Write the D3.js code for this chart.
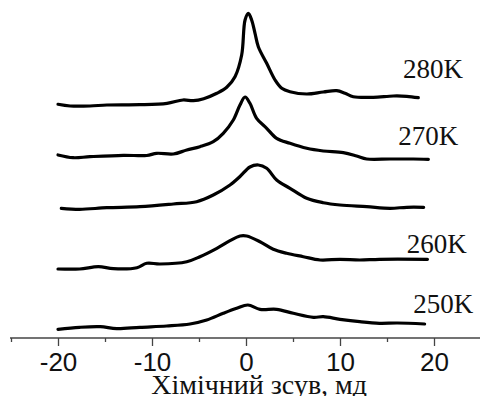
<!DOCTYPE html>
<html>
<head>
<meta charset="utf-8">
<script src="https://cdn.jsdelivr.net/npm/d3@7"></script>
<style>
  html, body { margin: 0; padding: 0; background: #fff; }
  svg { display: block; }
</style>
</head>
<body>
<svg width="480" height="396"></svg>
<script>
// spectra: chemical shift (ppm) and intensity (a.u.)
var shift280 = [-20.0,-18.7,-16.6,-14.8,-11.3,-8.4,-6.7,-5.6,-4.5,-3.1,-2.05,-1.17,-0.46,-0.1,0.25,0.6,0.96,1.31,2.2,3.09,3.8,4.68,6.46,8.22,9.65,10.53,11.41,13.54,15.67,17.1,18.33]
var int280   = [1.7,0,0,1,1.3,2.7,6,5.3,7.3,12.7,18.7,29.3,51,86,92.7,86,72.7,59.3,42.7,26,17.7,14.3,12,14,15.3,12.7,9.3,8.7,10,9.7,8.3]

var shift270 = [-20.0,-18.4,-16.6,-13.05,-10.56,-9.5,-7.73,-6.3,-4.9,-3.48,-2.42,-1.35,-0.64,-0.1,0.42,1.13,2.2,3.26,4.68,6.46,8.22,10.35,11.77,12.84,15.32,17.8,19.4]
var int270   = [3,0.3,1.3,2.7,2.5,4.7,4,8,11.3,16.3,24.7,38,53,61,54.7,39.7,29.7,19.7,14.7,9.7,7,5.3,2,-1,-1,-1,-1.3]

var shift265 = [-19.65,-17.7,-14.8,-11.28,-7.73,-5.25,-3.48,-1.7,-0.64,0.42,1.31,2.2,3.26,4.68,6.46,8.22,10.0,12.84,15.32,17.1,18.9]
var int265   = [-0.3,-1.3,0.3,1.3,4,6.3,13,23,31.5,41,43,39.7,28,19.7,9.7,5.3,3,1.3,-0.3,0.7,0.7]

var shift260 = [-20.0,-17.7,-15.7,-14.1,-11.6,-10.56,-9.15,-6.3,-4.9,-3.1,-1.7,-0.64,0.07,1.49,2.9,4.32,6.1,7.87,10.0,12.1,14.2,19.3]
var int260   = [-1,-1,1.3,-0.7,0.3,4.7,4,6.3,11.3,19.7,27.3,32,32,26.3,18.7,14.7,11.3,8,8.7,8,8.7,8.7]

var shift250 = [-20.0,-17.7,-15.5,-13.75,-11.28,-8.44,-5.96,-4.18,-2.42,-0.99,0.2,1.49,3.26,5.04,7.17,8.22,10.0,12.1,14.2,16.1,19.0]
var int250   = [-1.3,0.7,1.3,-0.7,0.7,2,4,8,14.7,19.7,23,18.7,18.7,14.7,10.7,11.3,8.7,6.3,4.7,5,4]

var temps   = ["280K", "270K", "", "260K", "250K"]
var offsets = [232, 180, 130, 70, 10]
var shifts  = [shift280, shift270, shift265, shift260, shift250]
var intens  = [int280, int270, int265, int260, int250]

// where each temperature label sits (ppm, absolute level)
var labelShift = [16.7, 16.2, null, 17.1, 17.8]
var labelLevel = [260, 193, null, 85, 25]

var majorTicks = [-20, -10, 0, 10, 20]
var minorTicks = [-25, -15, -5, 5, 15, 25]
var xTitle = "Хімічний зсув, мд"

var svg = d3.select("svg")

var x = d3.scaleLinear().domain([-25, 25]).range([11, 481])
var y = d3.scaleLinear().domain([0, 338]).range([338, 0])

var line = d3.line()
  .x(function (d) { return x(d[0]) })
  .y(function (d) { return y(d[1]) })
  .curve(d3.curveCatmullRom.alpha(0.5))

var traces = temps.map(function (t, i) {
  return shifts[i].map(function (s, j) { return [s, intens[i][j] + offsets[i]] })
})

svg.selectAll("path.trace")
  .data(traces)
  .enter().append("path")
  .attr("class", "trace")
  .attr("d", line)
  .attr("fill", "none")
  .attr("stroke", "#000")
  .attr("stroke-width", 3.2)
  .attr("stroke-linejoin", "round")
  .attr("stroke-linecap", "round")

svg.selectAll("text.temp")
  .data(temps.map(function (t, i) { return i }).filter(function (i) { return temps[i] }))
  .enter().append("text")
  .attr("class", "temp")
  .attr("x", function (i) { return x(labelShift[i]) })
  .attr("y", function (i) { return y(labelLevel[i]) })
  .attr("font-family", "Liberation Serif, Times New Roman, serif")
  .attr("font-size", 27)
  .attr("fill", "#111")
  .text(function (i) { return temps[i] })

// x axis
var axisG = svg.append("g").attr("transform", "translate(0," + y(0) + ")")

axisG.append("g")
  .call(d3.axisBottom(x).tickValues(minorTicks).tickSize(4).tickFormat(""))
  .call(function (g) { g.select(".domain").remove() })

axisG.append("g")
  .call(d3.axisBottom(x).tickValues(majorTicks).tickSize(8).tickSizeOuter(0).tickPadding(7)
    .tickFormat(function (d) { return d < 0 ? "-" + Math.abs(d) : d }))
  .call(function (g) {
    g.select(".domain").attr("d", "M" + (x(-25) - 1) + ",0H" + x(25))
    g.selectAll("text")
      .attr("font-family", "Liberation Sans, Arial, sans-serif")
      .attr("font-size", 26)
      .attr("fill", "#111")
  })

axisG.selectAll("path, line").attr("stroke", "#444").attr("stroke-width", 1.3)

svg.append("text")
  .attr("x", x(1.4))
  .attr("y", 394)
  .attr("text-anchor", "middle")
  .attr("font-family", "Liberation Serif, Times New Roman, serif")
  .attr("font-size", 28)
  .attr("fill", "#111")
  .text(xTitle)
</script>
</body>
</html>
